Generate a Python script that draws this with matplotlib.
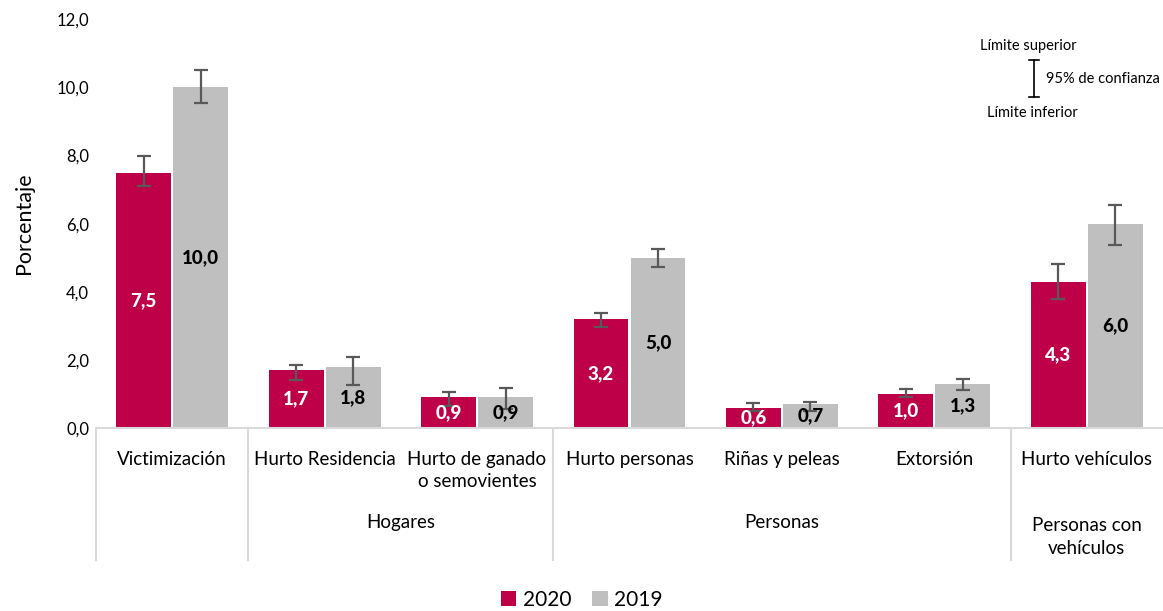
import matplotlib.pyplot as plt
import numpy as np

plt.rcParams['font.family'] = ['Lato', 'DejaVu Sans']

categories = ["Victimización", "Hurto Residencia", "Hurto de ganado\no semovientes",
              "Hurto personas", "Riñas y peleas", "Extorsión", "Hurto vehículos"]
groups = ["", "Hogares", "Personas", "Personas con\nvehículos"]
group_spans = [(0, 0), (1, 2), (3, 5), (6, 6)]

vals_2020 = [7.5, 1.7, 0.9, 3.2, 0.6, 1.0, 4.3]
low_2020 = [7.1, 1.41, 0.65, 2.96, 0.5, 0.91, 3.78]
high_2020 = [7.98, 1.85, 1.06, 3.37, 0.73, 1.14, 4.81]

vals_2019 = [10.0, 1.8, 0.9, 5.0, 0.7, 1.3, 6.0]
low_2019 = [9.53, 1.26, 0.56, 4.72, 0.5, 1.11, 5.37]
high_2019 = [10.5, 2.08, 1.17, 5.25, 0.76, 1.44, 6.54]

yticks = [0, 2, 4, 6, 8, 10, 12]

red = "#BE0048"
grey = "#BFBFBF"
err_col = "#595959"
line_col = "#D9D9D9"


def main():
    fig = plt.figure(figsize=(11.63, 6.11), dpi=100)
    ax = fig.add_axes([0.0825, 0.2995, 0.9175, 0.669])

    x = np.arange(len(categories))
    w = 0.36
    off = 0.187

    ax.bar(x - off, vals_2020, w, color=red, label="2020", zorder=2)
    ax.bar(x + off, vals_2019, w, color=grey, label="2019", zorder=2)

    v20 = np.array(vals_2020)
    v19 = np.array(vals_2019)
    ax.errorbar(x - off, v20, yerr=[v20 - low_2020, np.array(high_2020) - v20],
                fmt="none", ecolor=err_col, elinewidth=1.6, capsize=5, capthick=1.6, zorder=3)
    ax.errorbar(x + off, v19, yerr=[v19 - low_2019, np.array(high_2019) - v19],
                fmt="none", ecolor=err_col, elinewidth=1.6, capsize=5, capthick=1.6, zorder=3)

    for i in range(len(categories)):
        ax.text(x[i] - off, vals_2020[i] / 2, f"{vals_2020[i]:.1f}".replace(".", ","),
                ha="center", va="center", color="white", fontsize=13.5, fontweight=900, zorder=4)
        ax.text(x[i] + off, vals_2019[i] / 2, f"{vals_2019[i]:.1f}".replace(".", ","),
                ha="center", va="center", color="black", fontsize=13.5, fontweight=900, zorder=4)

    ax.set_xlim(-0.5, len(categories) - 0.5)
    ax.set_ylim(0, 12)
    ax.set_yticks(yticks)
    ax.set_yticklabels([f"{t:.1f}".replace(".", ",") for t in yticks], fontsize=12)
    ax.tick_params(axis="both", length=0)
    ax.set_xticks([])
    ax.tick_params(axis="y", pad=5)
    for s in ["top", "right", "left"]:
        ax.spines[s].set_visible(False)
    ax.spines["bottom"].set_color(line_col)
    ax.spines["bottom"].set_linewidth(1.5)

    ax.set_ylabel("Porcentaje", fontsize=15.5)
    ax.yaxis.set_label_coords(-0.058, 0.5)

    # category and group labels under the axis
    trans = ax.get_xaxis_transform()
    for i, c in enumerate(categories):
        ax.text(x[i], -0.056, c, transform=trans, ha="center", va="top",
                fontsize=13.5, linespacing=1.35)
    for g, (a, b) in zip(groups, group_spans):
        ax.text((a + b) / 2, -0.232 if "\n" not in g else -0.266, g, transform=trans,
                ha="center", va="center", fontsize=13.5, linespacing=1.4)
    for bnd in [-0.5, 0.5, 2.5, 5.5]:
        ax.plot([bnd, bnd], [0, -0.323], transform=trans, color=line_col,
                lw=1.5, clip_on=False)

    # confidence interval key, top right
    fig.text(0.8427, 0.9247, "Límite superior", fontsize=10.5, ha="left", va="center")
    fig.text(0.8487, 0.815, "Límite inferior", fontsize=10.5, ha="left", va="center")
    fig.text(0.8994, 0.8707, "95% de confianza", fontsize=10.5, ha="left", va="center")
    fig.add_artist(plt.Line2D([0.889, 0.889], [0.841, 0.9018], color="black", lw=1.2))
    fig.add_artist(plt.Line2D([0.8845, 0.8935], [0.9018, 0.9018], color="black", lw=1.2))
    fig.add_artist(plt.Line2D([0.8845, 0.8935], [0.841, 0.841], color="black", lw=1.2))

    fig.legend(loc="center", bbox_to_anchor=(0.5, 0.018), ncol=2, frameon=False,
               fontsize=15, handlelength=0.75, handleheight=0.75, handletextpad=0.3,
               columnspacing=1.0)

    fig.savefig("out.png", dpi=100)


if __name__ == "__main__":
    main()
